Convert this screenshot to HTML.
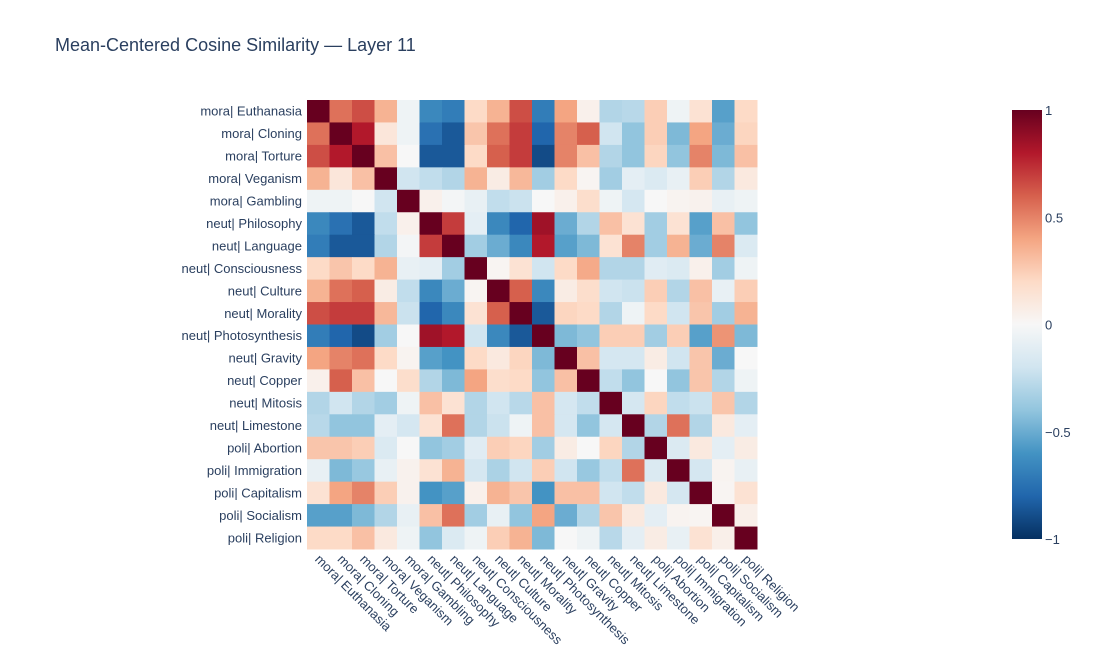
<!DOCTYPE html>
<html><head><meta charset="utf-8"><style>
body{margin:0;background:#fff;font-family:"Liberation Sans",Arial,sans-serif}
svg text{font-family:"Liberation Sans",Arial,sans-serif;fill:#2a3f5f}
</style></head><body>
<svg id="chart" width="1094" height="664" xmlns="http://www.w3.org/2000/svg">
<rect width="1094" height="664" fill="#fff"/>
<text x="55" y="51" font-size="18">Mean-Centered Cosine Similarity — Layer 11</text>
<g id="cells"></g>
<g id="ylabels"></g>
<g id="xlabels"></g>
<defs><linearGradient id="cbg" x1="0" y1="1" x2="0" y2="0"></linearGradient></defs>
<rect x="1012" y="110" width="30" height="429" fill="url(#cbg)"/>
<g id="cbticks"></g>
</svg>
<script>
const labels=["mora| Euthanasia","mora| Cloning","mora| Torture","mora| Veganism","mora| Gambling","neut| Philosophy","neut| Language","neut| Consciousness","neut| Culture","neut| Morality","neut| Photosynthesis","neut| Gravity","neut| Copper","neut| Mitosis","neut| Limestone","poli| Abortion","poli| Immigration","poli| Capitalism","poli| Socialism","poli| Religion"];
const values=[
[1,0.55,0.65,0.35,-0.05,-0.65,-0.7,0.2,0.35,0.65,-0.7,0.4,0.05,-0.3,-0.28,0.25,-0.05,0.15,-0.55,0.2],
[0.55,1,0.8,0.12,-0.05,-0.75,-0.85,0.28,0.55,0.7,-0.8,0.5,0.6,-0.2,-0.4,0.25,-0.45,0.4,-0.5,0.22],
[0.65,0.8,1,0.3,0,-0.85,-0.85,0.2,0.6,0.7,-0.9,0.5,0.3,-0.3,-0.4,0.22,-0.4,0.5,-0.45,0.3],
[0.35,0.12,0.3,1,-0.2,-0.25,-0.3,0.35,0.08,0.33,-0.35,0.2,0.02,-0.35,-0.1,-0.15,-0.08,0.25,-0.3,0.1],
[-0.05,-0.05,0,-0.2,1,0.05,-0.02,-0.08,-0.25,-0.22,0,0.05,0.18,-0.05,-0.18,0,0.03,0.04,-0.08,-0.05],
[-0.65,-0.75,-0.85,-0.25,0.05,1,0.7,-0.1,-0.65,-0.8,0.85,-0.5,-0.3,0.3,0.15,-0.35,0.15,-0.55,0.3,-0.4],
[-0.7,-0.85,-0.85,-0.3,-0.02,0.7,1,-0.35,-0.5,-0.65,0.8,-0.55,-0.45,0.15,0.5,-0.35,0.35,-0.5,0.5,-0.15],
[0.2,0.28,0.2,0.35,-0.08,-0.1,-0.35,1,0.02,0.15,-0.2,0.2,0.38,-0.3,-0.3,-0.12,-0.15,0.05,-0.35,-0.05],
[0.35,0.55,0.6,0.08,-0.25,-0.65,-0.5,0.02,1,0.6,-0.65,0.08,0.18,-0.2,-0.22,0.25,-0.3,0.3,-0.08,0.25],
[0.65,0.7,0.7,0.33,-0.22,-0.8,-0.65,0.15,0.6,1,-0.85,0.22,0.2,-0.3,-0.05,0.2,-0.2,0.28,-0.35,0.35],
[-0.7,-0.8,-0.9,-0.35,0,0.85,0.8,-0.2,-0.65,-0.85,1,-0.45,-0.4,0.25,0.25,-0.35,0.25,-0.55,0.45,-0.45],
[0.4,0.5,0.55,0.2,0.03,-0.55,-0.6,0.2,0.1,0.22,-0.45,1,0.3,-0.18,-0.18,0.08,-0.2,0.28,-0.5,0],
[0.05,0.6,0.3,0,0.18,-0.3,-0.45,0.4,0.18,0.2,-0.4,0.3,1,-0.25,-0.4,0,-0.4,0.28,-0.3,-0.05],
[-0.3,-0.2,-0.3,-0.35,-0.05,0.3,0.15,-0.3,-0.2,-0.28,0.3,-0.18,-0.25,1,-0.18,0.22,-0.25,-0.22,0.28,-0.3],
[-0.28,-0.4,-0.4,-0.1,-0.18,0.15,0.55,-0.3,-0.22,-0.05,0.3,-0.18,-0.4,-0.18,1,-0.3,0.55,-0.3,0.1,-0.1],
[0.28,0.28,0.25,-0.15,0,-0.4,-0.35,-0.12,0.25,0.22,-0.35,0.08,0,0.22,-0.3,1,-0.15,0.1,-0.1,0.08],
[-0.08,-0.45,-0.38,-0.08,0.04,0.15,0.35,-0.18,-0.32,-0.2,0.25,-0.2,-0.38,-0.25,0.55,-0.15,1,-0.18,0.03,-0.08],
[0.15,0.4,0.5,0.25,0.04,-0.6,-0.55,0.05,0.35,0.28,-0.6,0.3,0.3,-0.2,-0.25,0.1,-0.18,1,0.02,0.15],
[-0.55,-0.55,-0.45,-0.3,-0.08,0.3,0.55,-0.35,-0.08,-0.4,0.4,-0.5,-0.3,0.28,0.1,-0.1,0.03,0.02,1,0.06],
[0.2,0.2,0.3,0.1,-0.05,-0.4,-0.15,-0.05,0.25,0.35,-0.45,0,-0.05,-0.28,-0.1,0.08,-0.08,0.15,0.06,1]];
const cbTickValues=[1,0.5,0,-0.5,-1];
const cbTickLabels=["1","0.5","0","−0.5","−1"];

const stops=[[5,48,97],[33,102,172],[67,147,195],[146,197,222],[209,229,240],[247,247,247],[253,219,199],[244,165,130],[214,96,77],[178,24,43],[103,0,31]];
function color(v){let t=(Math.max(-1,Math.min(1,v))+1)/2*10;let i=Math.min(9,Math.floor(t)),f=t-i;
const a=stops[i],b=stops[i+1];return `rgb(${a.map((c,k)=>Math.round(c+(b[k]-c)*f)).join(',')})`;}
const X0=307,X1=757,Y0=100,Y1=549,n=labels.length;
const cw=(X1-X0)/n,ch=(Y1-Y0)/n;
const xs=i=>X0+i*cw, ys=j=>Y0+j*ch;
const cbY=v=>539-(v+1)/2*429;
const NS="http://www.w3.org/2000/svg";
const cells=document.getElementById('cells');
values.forEach((row,r)=>row.forEach((v,c)=>{
 const e=document.createElementNS(NS,'rect');
 e.setAttribute('x',xs(c));e.setAttribute('y',ys(r));e.setAttribute('width',cw+0.5);e.setAttribute('height',ch+0.5);
 e.setAttribute('fill',color(v));
 
 
 cells.appendChild(e);}));
const yl=document.getElementById('ylabels'),xl=document.getElementById('xlabels');
labels.forEach((l,i)=>{
 const t=document.createElementNS(NS,'text');
 t.setAttribute('x',302);t.setAttribute('y',ys(i)+ch/2+4.5);t.setAttribute('text-anchor','end');t.setAttribute('font-size','13');
 t.textContent=l;
 
 
 yl.appendChild(t);
 const u=document.createElementNS(NS,'text');
 const cx=xs(i)+cw/2-4,cy=560;
 u.setAttribute('x',cx);u.setAttribute('y',cy);u.setAttribute('font-size','13');
 u.setAttribute('transform',`rotate(45 ${cx} ${cy})`);
 u.textContent=l;
 
 
 xl.appendChild(u);});
const g=document.getElementById('cbg');
stops.forEach((s,i)=>{const st=document.createElementNS(NS,'stop');st.setAttribute('offset',i/10);st.setAttribute('stop-color',`rgb(${s.join(',')})`);g.appendChild(st);});
const cbt=document.getElementById('cbticks');
cbTickValues.forEach((v,i)=>{const t=document.createElementNS(NS,'text');
 t.setAttribute('x',1045);t.setAttribute('y',cbY(v)+5);t.setAttribute('font-size','13');t.textContent=cbTickLabels[i];
 
 
 cbt.appendChild(t);});
</script>
</body></html>
